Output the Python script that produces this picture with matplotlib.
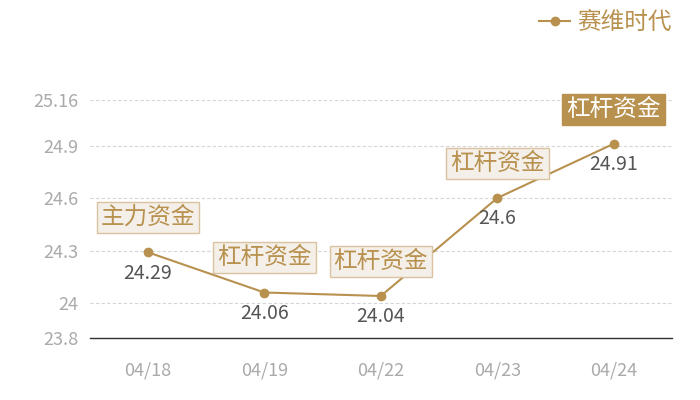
import matplotlib
matplotlib.use("Agg")
import matplotlib.pyplot as plt

plt.rcParams['font.family'] = ['Noto Sans CJK SC', 'DejaVu Sans']

dates = ["04/18", "04/19", "04/22", "04/23", "04/24"]
prices = [24.29, 24.06, 24.04, 24.6, 24.91]
tags = ["主力资金", "杠杆资金", "杠杆资金", "杠杆资金", "杠杆资金"]
yticks = [23.8, 24, 24.3, 24.6, 24.9, 25.16]
series_name = "赛维时代"

gold = "#b8914f"

fig = plt.figure(figsize=(7, 4), dpi=100)
ax = fig.add_axes([0.128, 0.155, 0.832, 0.595])

x = list(range(len(dates)))
ax.plot(x, prices, color=gold, lw=1.5, marker="o", markersize=6, label=series_name)

for i, (v, t) in enumerate(zip(prices, tags)):
    ax.annotate(f"{v:g}", (i, v), xytext=(0, -15), textcoords="offset points",
                ha="center", va="center", fontsize=14, color="#555555")
    last = i == len(prices) - 1
    ax.annotate(t, (i, v), xytext=(0, 25), textcoords="offset points",
                ha="center", va="center", fontsize=17,
                color="white" if last else gold,
                bbox=dict(boxstyle="square,pad=0.17",
                          fc=gold if last else "#f4efe8",
                          ec="#d9c3a0" if not last else gold, lw=1))

ax.set_xlim(-0.5, len(dates) - 0.5)
ax.set_ylim(23.8, 25.16)
ax.set_xticks(x)
ax.set_xticklabels(dates)
ax.set_yticks(yticks)
ax.set_yticklabels([f"{t:g}" for t in yticks])
ax.tick_params(axis="both", length=0, labelsize=13, colors="#aaaaaa")
ax.tick_params(axis="x", pad=17)
ax.tick_params(axis="y", pad=8)

ax.grid(axis="y", color="#d5d5d5", ls=(0, (3, 2)), lw=0.8)
for s in ["top", "right", "left"]:
    ax.spines[s].set_visible(False)
ax.spines["bottom"].set_color("#333333")
ax.spines["bottom"].set_linewidth(1)

leg = ax.legend(loc="upper right", bbox_to_anchor=(0.99, 1.025), bbox_transform=fig.transFigure,
                frameon=False, fontsize=17, handlelength=1.3, handletextpad=0.3)
for txt in leg.get_texts():
    txt.set_color(gold)

fig.savefig("out.png", dpi=100)
